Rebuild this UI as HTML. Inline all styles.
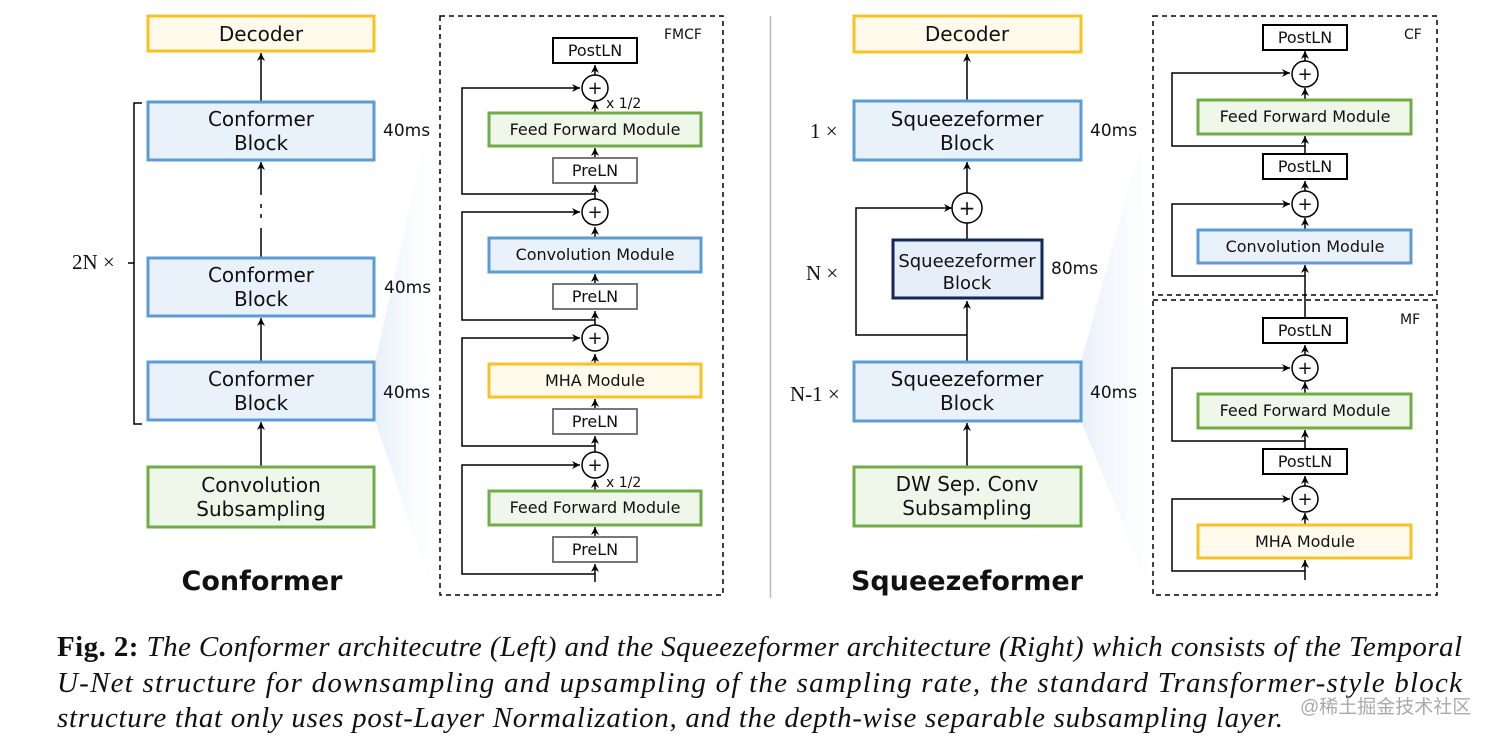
<!DOCTYPE html>
<html><head><meta charset="utf-8"><style>
html,body{margin:0;padding:0;background:#fff;}
svg{display:block;}
.d{font-family:"DejaVu Sans","Liberation Sans",sans-serif;fill:#111;}
.s{font-family:"Liberation Serif",serif;fill:#111;}
</style></head><body>
<svg width="1512" height="738" viewBox="0 0 1512 738" xmlns="http://www.w3.org/2000/svg">
<defs>
<marker id="a" markerWidth="10" markerHeight="10" refX="8" refY="4" orient="auto" markerUnits="userSpaceOnUse">
<path d="M0,0 L8,4 L0,8 L2.5,4 Z" fill="#000"/></marker>
<linearGradient id="g1" x1="0" y1="0" x2="1" y2="0"><stop offset="0" stop-color="#d6e5f5" stop-opacity="0.6"/><stop offset="1" stop-color="#eef4fb" stop-opacity="0.05"/></linearGradient>
</defs>

<polygon points="375,362 375,420 432,590 425,140" fill="url(#g1)"/>
<polygon points="1081,362 1081,421 1150,590 1142,140" fill="url(#g1)"/>

<line x1="770.5" y1="16" x2="770.5" y2="598" stroke="#bbb" stroke-width="1.5"/>

<g stroke="#000" stroke-width="1.5" fill="none">
<line x1="261" y1="102" x2="261" y2="53" marker-end="url(#a)"/>
<line x1="261" y1="258" x2="261" y2="228"/>
<line x1="261" y1="195" x2="261" y2="162" marker-end="url(#a)"/>
<line x1="261" y1="204" x2="261" y2="208"/><line x1="261" y1="214" x2="261" y2="218"/>
<line x1="261" y1="362" x2="261" y2="318" marker-end="url(#a)"/>
<line x1="261" y1="467" x2="261" y2="422" marker-end="url(#a)"/>
<path d="M142,103 L134,103 L134,424 L142,424 M134,263 L128,263"/>

<rect x="440" y="16" width="283" height="579" stroke-dasharray="5,4"/>
<line x1="595" y1="582" x2="595" y2="564" marker-end="url(#a)"/>
<line x1="595" y1="537" x2="595" y2="527" marker-end="url(#a)"/>
<line x1="595" y1="491" x2="595" y2="480" marker-end="url(#a)"/>
<line x1="595" y1="452" x2="595" y2="436" marker-end="url(#a)"/>
<line x1="595" y1="409" x2="595" y2="399" marker-end="url(#a)"/>
<line x1="595" y1="364" x2="595" y2="354" marker-end="url(#a)"/>
<line x1="595" y1="326" x2="595" y2="311" marker-end="url(#a)"/>
<line x1="595" y1="284" x2="595" y2="274" marker-end="url(#a)"/>
<line x1="595" y1="238" x2="595" y2="227" marker-end="url(#a)"/>
<line x1="595" y1="200" x2="595" y2="185" marker-end="url(#a)"/>
<line x1="595" y1="158" x2="595" y2="148" marker-end="url(#a)"/>
<line x1="595" y1="113" x2="595" y2="102" marker-end="url(#a)"/>
<line x1="595" y1="75" x2="595" y2="65" marker-end="url(#a)"/>
<path d="M595,574 L462,574 L462,465 L580,465" marker-end="url(#a)"/>
<path d="M595,446 L462,446 L462,338 L580,338" marker-end="url(#a)"/>
<path d="M595,320 L462,320 L462,212 L580,212" marker-end="url(#a)"/>
<path d="M595,194 L462,194 L462,88 L580,88" marker-end="url(#a)"/>

<line x1="967" y1="101" x2="967" y2="54" marker-end="url(#a)"/>
<line x1="967" y1="194" x2="967" y2="162" marker-end="url(#a)"/>
<line x1="967" y1="239" x2="967" y2="222"/>
<line x1="967" y1="362" x2="967" y2="301" marker-end="url(#a)"/>
<line x1="967" y1="467" x2="967" y2="423" marker-end="url(#a)"/>
<path d="M967,335 L856,335 L856,208 L952,208" marker-end="url(#a)"/>

<rect x="1153" y="16" width="284" height="279" stroke-dasharray="5,4"/>
<rect x="1153" y="300" width="284" height="295" stroke-dasharray="5,4"/>
<line x1="1305" y1="580" x2="1305" y2="560" marker-end="url(#a)"/>
<line x1="1305" y1="525" x2="1305" y2="513" marker-end="url(#a)"/>
<line x1="1305" y1="486" x2="1305" y2="476" marker-end="url(#a)"/>
<line x1="1305" y1="449" x2="1305" y2="430" marker-end="url(#a)"/>
<line x1="1305" y1="394" x2="1305" y2="382" marker-end="url(#a)"/>
<line x1="1305" y1="355" x2="1305" y2="345" marker-end="url(#a)"/>
<line x1="1305" y1="318" x2="1305" y2="265" marker-end="url(#a)"/>
<line x1="1305" y1="230" x2="1305" y2="218" marker-end="url(#a)"/>
<line x1="1305" y1="191" x2="1305" y2="181" marker-end="url(#a)"/>
<line x1="1305" y1="154" x2="1305" y2="136" marker-end="url(#a)"/>
<line x1="1305" y1="100" x2="1305" y2="88" marker-end="url(#a)"/>
<line x1="1305" y1="61" x2="1305" y2="51" marker-end="url(#a)"/>
<path d="M1305,571 L1172,571 L1172,499 L1290,499" marker-end="url(#a)"/>
<path d="M1305,441 L1172,441 L1172,368 L1290,368" marker-end="url(#a)"/>
<path d="M1305,276 L1172,276 L1172,204 L1290,204" marker-end="url(#a)"/>
<path d="M1305,146 L1172,146 L1172,73 L1290,73" marker-end="url(#a)"/>
</g>

<g stroke-width="3">
<rect x="148" y="16" width="226" height="35" fill="#fffaec" stroke="#f7c224"/>
<rect x="148" y="102" width="226" height="58" fill="#e9f1fa" stroke="#5d9bd5"/>
<rect x="148" y="258" width="226" height="58" fill="#e9f1fa" stroke="#5d9bd5"/>
<rect x="148" y="362" width="226" height="58" fill="#e9f1fa" stroke="#5d9bd5"/>
<rect x="148" y="467" width="226" height="60" fill="#eff6ea" stroke="#70ad47"/>
<rect x="489" y="113" width="212" height="33" fill="#eff6ea" stroke="#70ad47"/>
<rect x="489" y="238" width="212" height="34" fill="#e9f1fa" stroke="#5d9bd5"/>
<rect x="489" y="364" width="212" height="33" fill="#fffaec" stroke="#f7c224"/>
<rect x="489" y="491" width="212" height="34" fill="#eff6ea" stroke="#70ad47"/>
<rect x="854" y="16" width="227" height="36" fill="#fffaec" stroke="#f7c224"/>
<rect x="854" y="101" width="227" height="59" fill="#e9f1fa" stroke="#5d9bd5"/>
<rect x="854" y="362" width="227" height="59" fill="#e9f1fa" stroke="#5d9bd5"/>
<rect x="854" y="467" width="227" height="59" fill="#eff6ea" stroke="#70ad47"/>
<rect x="893" y="240" width="149" height="58" fill="#e6eefa" stroke="#13285a"/>
<rect x="1198" y="100" width="213" height="34" fill="#eff6ea" stroke="#70ad47"/>
<rect x="1198" y="230" width="213" height="33" fill="#e9f1fa" stroke="#5d9bd5"/>
<rect x="1198" y="394" width="213" height="34" fill="#eff6ea" stroke="#70ad47"/>
<rect x="1198" y="525" width="213" height="33" fill="#fffaec" stroke="#f7c224"/>
</g>
<g stroke-width="2" fill="#fff">
<rect x="553" y="38" width="84" height="25" stroke="#000"/>
<rect x="553" y="158" width="84" height="25" stroke="#777"/>
<rect x="553" y="284" width="84" height="25" stroke="#777"/>
<rect x="553" y="409" width="84" height="25" stroke="#777"/>
<rect x="553" y="537" width="84" height="25" stroke="#777"/>
<rect x="1263" y="25" width="84" height="25" stroke="#000"/>
<rect x="1263" y="154" width="84" height="25" stroke="#000"/>
<rect x="1263" y="318" width="84" height="25" stroke="#000"/>
<rect x="1263" y="449" width="84" height="25" stroke="#000"/>
</g>
<g fill="#fff" stroke="#000" stroke-width="1.5">
<circle cx="595" cy="88" r="13"/><circle cx="595" cy="212" r="13"/><circle cx="595" cy="338" r="13"/><circle cx="595" cy="465" r="13"/>
<circle cx="967" cy="208" r="15"/>
<circle cx="1305" cy="74" r="13"/><circle cx="1305" cy="204" r="13"/><circle cx="1305" cy="368" r="13"/><circle cx="1305" cy="499" r="13"/>
</g>
<g class="d" font-size="18" text-anchor="middle">
<text x="595" y="94">+</text><text x="595" y="218">+</text><text x="595" y="344">+</text><text x="595" y="471">+</text>
<text x="967" y="215" font-size="20">+</text>
<text x="1305" y="80">+</text><text x="1305" y="210">+</text><text x="1305" y="374">+</text><text x="1305" y="505">+</text>
</g>

<g class="d" font-size="20" text-anchor="middle">
<text x="261" y="41">Decoder</text>
<text x="261" y="126">Conformer</text><text x="261" y="150">Block</text>
<text x="261" y="282">Conformer</text><text x="261" y="306">Block</text>
<text x="261" y="386">Conformer</text><text x="261" y="410">Block</text>
<text x="261" y="492">Convolution</text><text x="261" y="516">Subsampling</text>
<text x="967" y="41">Decoder</text>
<text x="967" y="126">Squeezeformer</text><text x="967" y="150">Block</text>
<text x="967" y="386">Squeezeformer</text><text x="967" y="410">Block</text>
<text x="967" y="491">DW Sep. Conv</text><text x="967" y="515">Subsampling</text>
<text x="967" y="267" font-size="18">Squeezeformer</text><text x="967" y="289" font-size="18">Block</text>
</g>
<g class="d" font-size="16" text-anchor="middle">
<text x="595" y="135">Feed Forward Module</text>
<text x="595" y="260">Convolution Module</text>
<text x="595" y="386">MHA Module</text>
<text x="595" y="513">Feed Forward Module</text>
<text x="595" y="56">PostLN</text><text x="595" y="176">PreLN</text><text x="595" y="302">PreLN</text><text x="595" y="427">PreLN</text><text x="595" y="555">PreLN</text>
<text x="1305" y="122">Feed Forward Module</text>
<text x="1305" y="252">Convolution Module</text>
<text x="1305" y="416">Feed Forward Module</text>
<text x="1305" y="547">MHA Module</text>
<text x="1305" y="43">PostLN</text><text x="1305" y="172">PostLN</text><text x="1305" y="336">PostLN</text><text x="1305" y="467">PostLN</text>
</g>
<g class="d" font-size="14">
<text x="606" y="108">x 1/2</text><text x="606" y="487">x 1/2</text>
<text x="664" y="39">FMCF</text><text x="1404" y="39">CF</text><text x="1400" y="324">MF</text>
</g>
<g class="d" font-size="17">
<text x="383" y="136">40ms</text><text x="384" y="293">40ms</text><text x="383" y="398">40ms</text>
<text x="1090" y="136">40ms</text><text x="1051" y="274">80ms</text><text x="1090" y="398">40ms</text>
</g>
<g class="s" font-size="21">
<text x="72" y="269">2N ×</text>
<text x="810" y="138">1 ×</text>
<text x="806" y="280">N ×</text>
<text x="790" y="401">N-1 ×</text>
</g>
<g class="d" font-size="27" font-weight="bold" text-anchor="middle">
<text x="262" y="590">Conformer</text>
<text x="967" y="590">Squeezeformer</text>
</g>

<g class="s" font-size="29">
<text x="57" y="656" textLength="1405" lengthAdjust="spacing"><tspan font-weight="bold">Fig. 2:</tspan><tspan font-style="italic"> The Conformer architecutre (Left) and the Squeezeformer architecture (Right) which consists of the Temporal</tspan></text>
<text x="57" y="692" font-style="italic" textLength="1405" lengthAdjust="spacing">U-Net structure for downsampling and upsampling of the sampling rate, the standard Transformer-style block</text>
<text x="57" y="727" font-style="italic" textLength="1226" lengthAdjust="spacing">structure that only uses post-Layer Normalization, and the depth-wise separable subsampling layer.</text>
</g>
<text x="1300" y="713" font-family="'Liberation Sans','Noto Sans CJK SC',sans-serif" font-size="19" fill="#aaa">@稀土掘金技术社区</text>
</svg>
</body></html>
